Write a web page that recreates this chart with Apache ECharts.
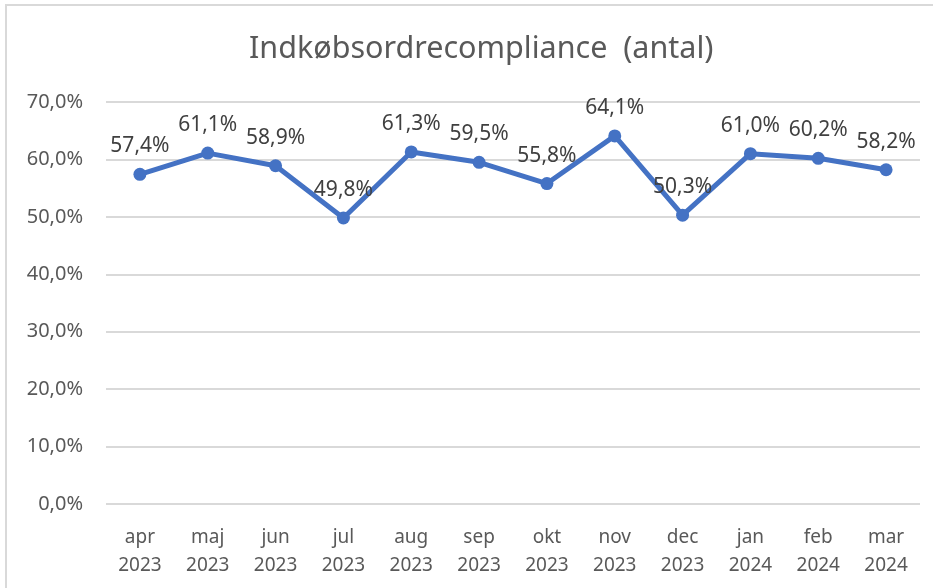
<!DOCTYPE html>
<html>
<head>
<meta charset="utf-8">
<script src="https://cdn.jsdelivr.net/npm/echarts@6/dist/echarts.min.js"></script>
<style>html,body{margin:0;padding:0;background:#fff}#c{width:933px;height:588px}</style>
</head>
<body>
<div id="c"></div>
<script>
const months = ['apr', 'maj', 'jun', 'jul', 'aug', 'sep', 'okt', 'nov', 'dec', 'jan', 'feb', 'mar'];
const years = ['2023', '2023', '2023', '2023', '2023', '2023', '2023', '2023', '2023', '2024', '2024', '2024'];
const values = [57.4, 61.1, 58.9, 49.8, 61.3, 59.5, 55.8, 64.1, 50.3, 61.0, 60.2, 58.2];
const yTicks = [0, 10, 20, 30, 40, 50, 60, 70];
const titleText = 'Indkøbsordrecompliance  (antal)';

const categories = months.map((m, i) => m + '\n' + years[i]);
const fmt = v => v.toFixed(1).replace('.', ',') + '%';

const chart = echarts.init(document.getElementById('c'));
chart.setOption({
  animation: false,
  title: {
    text: titleText,
    left: 244,
    top: 29,
    textStyle: { fontFamily: 'Noto Sans', fontSize: 30.5, fontWeight: 'normal', color: '#595959' }
  },
  graphic: [{
    type: 'rect',
    shape: { x: 6, y: 5, width: 1000, height: 1000 },
    style: { fill: 'none', stroke: '#d9d9d9', lineWidth: 2 },
    silent: true
  }],
  grid: { left: 106, right: 13, top: 102, bottom: 84, containLabel: false },
  xAxis: {
    type: 'category',
    data: categories,
    boundaryGap: true,
    axisLine: { show: false },
    axisTick: { show: false },
    axisLabel: {
      margin: 20,
      fontFamily: 'Noto Sans',
      fontSize: 19,
      lineHeight: 28,
      color: '#595959'
    }
  },
  yAxis: {
    type: 'value',
    min: yTicks[0],
    max: yTicks[yTicks.length - 1],
    interval: 10,
    axisLine: { show: false },
    axisTick: { show: false },
    splitLine: { lineStyle: { color: '#d9d9d9', width: 2 } },
    axisLabel: {
      margin: 23,
      fontFamily: 'Noto Sans',
      fontSize: 20,
      color: '#595959',
      formatter: v => v.toFixed(1).replace('.', ',') + '%'
    }
  },
  series: [{
    type: 'line',
    data: values,
    symbol: 'circle',
    symbolSize: 13,
    lineStyle: { color: '#4472C4', width: 5 },
    itemStyle: { color: '#4472C4' },
    label: {
      show: true,
      position: 'top',
      distance: 11,
      fontFamily: 'Noto Sans',
      fontSize: 21,
      color: '#404040',
      formatter: p => fmt(p.value)
    }
  }]
});
</script>
</body>
</html>
